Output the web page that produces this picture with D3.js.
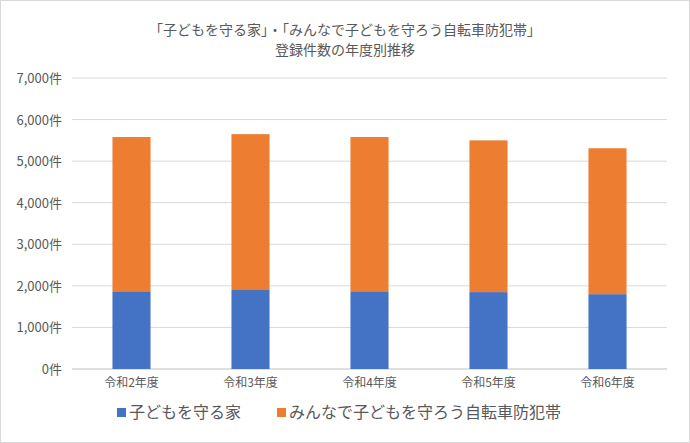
<!DOCTYPE html>
<html><head><meta charset="utf-8">
<script src="https://d3js.org/d3.v7.min.js"></script>
<style>body{margin:0;background:#fff;font-family:"Noto Sans CJK JP",sans-serif;}</style>
</head><body><svg id="c" width="690" height="443"></svg>
<script>
const categories=["令和2年度","令和3年度","令和4年度","令和5年度","令和6年度"];
const seriesNames=["子どもを守る家","みんなで子どもを守ろう自転車防犯帯"];
const ieValues=[1870,1900,1870,1850,1800];
const obiValues=[3710,3750,3710,3650,3510];
const yTicks=[0,1000,2000,3000,4000,5000,6000,7000];
const colors=["#4472C4","#ED7D31"];

const svg=d3.select("#c");
svg.append("rect").attr("x",0.5).attr("y",0.5).attr("width",689).attr("height",442).attr("fill","#fff").attr("stroke","#d9d9d9");
const x=d3.scaleBand().domain(categories).range([72,667]).paddingInner(0.68).paddingOuter(0.34);
const y=d3.scaleLinear().domain([0,7000]).range([369,78]);
const fmt=d3.format(",");
svg.append("g").selectAll("line").data(yTicks.slice(1)).join("line")
 .attr("x1",72).attr("x2",667).attr("y1",d=>y(d)).attr("y2",d=>y(d)).attr("stroke","#d9d9d9");
svg.append("line").attr("x1",72).attr("x2",667).attr("y1",y(0)).attr("y2",y(0)).attr("stroke","#bfbfbf");
svg.append("g").selectAll("text").data(yTicks).join("text")
 .attr("x",62).attr("y",d=>y(d)+5).attr("text-anchor","end").attr("font-size",13).attr("fill","#595959")
 .text(d=>fmt(d)+"件");
const stack=d3.stack().keys([0,1]).value((d,k)=>d[k])(categories.map((c,i)=>[ieValues[i],obiValues[i]]));
stack.forEach((s,k)=>{
 svg.append("g").selectAll("rect").data(s).join("rect")
  .attr("x",(d,i)=>x(categories[i])).attr("width",x.bandwidth())
  .attr("y",d=>y(d[1])).attr("height",d=>y(d[0])-y(d[1])).attr("fill",colors[k]);
});
svg.append("g").selectAll("text").data(categories).join("text")
 .attr("x",d=>x(d)+x.bandwidth()/2).attr("y",387).attr("text-anchor","middle").attr("font-size",12).attr("fill","#595959").text(d=>d);
const t=svg.append("text").attr("text-anchor","middle").attr("font-size",14).attr("fill","#595959");
t.append("tspan").attr("x",345).attr("y",35).text("「子どもを守る家」・「みんなで子どもを守ろう自転車防犯帯」");
t.append("tspan").attr("x",345).attr("y",55).text("登録件数の年度別推移");
const leg=[{x:117},{x:277}];
seriesNames.forEach((n,i)=>{
 svg.append("rect").attr("x",leg[i].x).attr("y",408).attr("width",9).attr("height",9).attr("fill",colors[i]);
 svg.append("text").attr("x",leg[i].x+12).attr("y",418).attr("font-size",16).attr("fill","#595959").text(n);
});
</script></body></html>
